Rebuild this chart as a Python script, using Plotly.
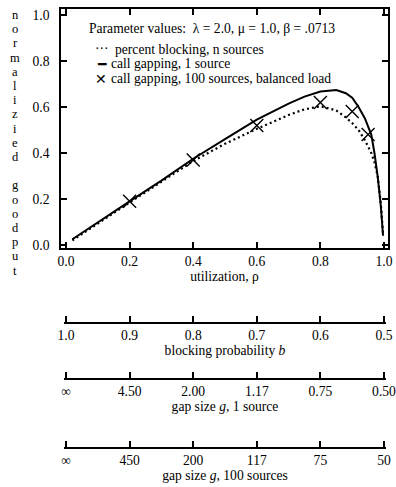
import plotly.graph_objects as go

# ---- data ----
rho_one = [0.02, 0.1, 0.2, 0.3, 0.4, 0.5, 0.6, 0.7, 0.75, 0.8, 0.85, 0.88, 0.9, 0.92, 0.94, 0.96, 0.97, 0.98, 0.99, 0.997]
goodput_one = [0.025, 0.10, 0.19, 0.28, 0.375, 0.46, 0.545, 0.615, 0.645, 0.667, 0.674, 0.66, 0.64, 0.60, 0.55, 0.48, 0.40, 0.30, 0.17, 0.04]

rho_block = [0.02, 0.1, 0.2, 0.3, 0.4, 0.5, 0.6, 0.7, 0.75, 0.8, 0.85, 0.88, 0.9, 0.92, 0.94, 0.96, 0.97, 0.98, 0.99, 0.997]
goodput_block = [0.02, 0.095, 0.185, 0.275, 0.365, 0.44, 0.505, 0.565, 0.59, 0.603, 0.585, 0.555, 0.53, 0.50, 0.455, 0.40, 0.36, 0.30, 0.18, 0.05]

rho_100 = [0.2, 0.4, 0.6, 0.8, 0.9, 0.95]
goodput_100 = [0.19, 0.37, 0.52, 0.62, 0.58, 0.48]

rho_ticks = [0.0, 0.2, 0.4, 0.6, 0.8, 1.0]
rho_labels = ["0.0", "0.2", "0.4", "0.6", "0.8", "1.0"]
y_ticks = [0.0, 0.2, 0.4, 0.6, 0.8, 1.0]
y_labels = ["0.0", "0.2", "0.4", "0.6", "0.8", "1.0"]
blocking_labels = ["1.0", "0.9", "0.8", "0.7", "0.6", "0.5"]
gap1_labels = ["\u221e", "4.50", "2.00", "1.17", "0.75", "0.50"]
gap100_labels = ["\u221e", "450", "200", "117", "75", "50"]
y_title_letters = list("normalizied") + [""] + list("goodput")

FONT = "Liberation Serif"
FS = 13.6

fig = go.Figure()
fig.add_trace(go.Scatter(x=rho_block, y=goodput_block, mode="lines",
                         line=dict(color="black", width=2.2, dash="2px,3px"),
                         name="percent blocking, n sources"))
fig.add_trace(go.Scatter(x=rho_one, y=goodput_one, mode="lines",
                         line=dict(color="black", width=2),
                         name="call gapping, 1 source"))
fig.add_trace(go.Scatter(x=rho_100, y=goodput_100, mode="markers",
                         marker=dict(symbol="x-thin-open", size=13, color="black",
                                     line=dict(width=1.4, color="black")),
                         name="call gapping, 100 sources, balanced load"))
# empty traces to realise the extra scales (each on its own hidden thin y strip)
for ax, yax in [("x2", "y2"), ("x3", "y3"), ("x4", "y4")]:
    fig.add_trace(go.Scatter(x=[None], y=[None], xaxis=ax, yaxis=yax,
                             mode="markers", showlegend=False, hoverinfo="skip"))

# geometry (pixels)
W, H = 396, 487
ml, mr, mt, mb = 61, 8, 9, 39
pw, ph = W - ml - mr, H - mt - mb
def px_to_fx(px):
    return (px - ml) / pw
def py_to_fy(py):
    return (H - mb - py) / ph

main_bottom = 248
x0_px, x1_px = 66, 384
span = x1_px - x0_px
xr0 = -(x0_px - ml) / span
xr1 = 1 + (ml + pw - x1_px) / span
y0_px, y1_px = 245, 15
yr0 = -(main_bottom - y0_px) / (y0_px - y1_px)
yr1 = 1 + (y1_px - mt) / (y0_px - y1_px)
ext = 2  # px beyond end ticks so the end ticks are drawn

tickfont = dict(family=FONT, size=FS, color="black")
titlefont = dict(family=FONT, size=FS, color="black")
common = dict(showgrid=False, zeroline=False, ticks="inside", ticklen=6, tickwidth=1.6,
              tickcolor="black", showline=True, linecolor="black", linewidth=1.5,
              tickfont=tickfont, ticklabeloverflow="allow")

def lower_axis(yname, labels, title):
    return dict(anchor=yname,
                domain=[px_to_fx(x0_px - ext), px_to_fx(x1_px + ext)],
                range=[-ext / span, 1 + ext / span],
                tickmode="array", tickvals=rho_ticks, ticktext=labels,
                title=dict(text=title, font=titlefont, standoff=0),
                **common)

def strip(pos_px):
    f = py_to_fy(pos_px)
    return dict(domain=[f, f + 0.02], visible=False, fixedrange=True, range=[0, 1])

fig.update_layout(
    width=W, height=H,
    margin=dict(l=ml, r=mr, t=mt, b=mb, autoexpand=False),
    plot_bgcolor="rgba(0,0,0,0)", paper_bgcolor="white", showlegend=False,
    font=dict(family=FONT, size=FS, color="black"),
    xaxis=dict(domain=[0, 1], range=[xr0, xr1], anchor="y",
               tickmode="array", tickvals=rho_ticks, ticktext=rho_labels,
               mirror="ticks",
               title=dict(text="utilization, \u03c1", font=titlefont, standoff=0),
               **common),
    yaxis=dict(domain=[py_to_fy(main_bottom), 1], range=[yr0, yr1], anchor="x",
               tickmode="array", tickvals=y_ticks, ticktext=y_labels,
               mirror="ticks", ticklabelstandoff=7, **common),
    xaxis2=lower_axis("y2", blocking_labels, "blocking probability <i>b</i>"),
    xaxis3=lower_axis("y3", gap1_labels, "gap size <i>g</i>, 1 source"),
    xaxis4=lower_axis("y4", gap100_labels, "gap size <i>g</i>, 100 sources"),
    yaxis2=strip(322),
    yaxis3=strip(378),
    yaxis4=strip(447),
)

# vertical stacked y title, one upright letter per line
for i, ch in enumerate(y_title_letters):
    if not ch:
        continue
    fig.add_annotation(text=ch, xref="paper", yref="paper",
                       x=px_to_fx(15), y=py_to_fy(15 + i * 14.2),
                       xanchor="center", yanchor="middle", showarrow=False,
                       font=dict(family=FONT, size=12.5, color="black"))

# legend block (text)
def ann(text, xpx, ypx, size=FS, family=FONT, anchor="left"):
    fig.add_annotation(text=text, xref="paper", yref="paper",
                       x=px_to_fx(xpx), y=py_to_fy(ypx), xanchor=anchor, yanchor="middle",
                       showarrow=False, font=dict(family=family, size=size, color="black"))

ann("Parameter values:\u00a0 \u03bb = 2.0, \u03bc = 1.0, \u03b2 = .0713", 87, 29)
ann("\u00b7\u00b7\u00b7", 102, 48, anchor="center")
ann("percent blocking, n sources", 113, 49)
ann("\u2501", 102, 64, size=14, family="DejaVu Sans", anchor="center")
ann("call gapping, 1 source", 109, 64)
ann("\u2715", 101, 79, size=14, family="DejaVu Sans", anchor="center")
ann("call gapping, 100 sources, balanced load", 109, 79)

fig.write_html("out.html", config={"displayModeBar": False},
               post_script="document.body.style.margin='0';")
